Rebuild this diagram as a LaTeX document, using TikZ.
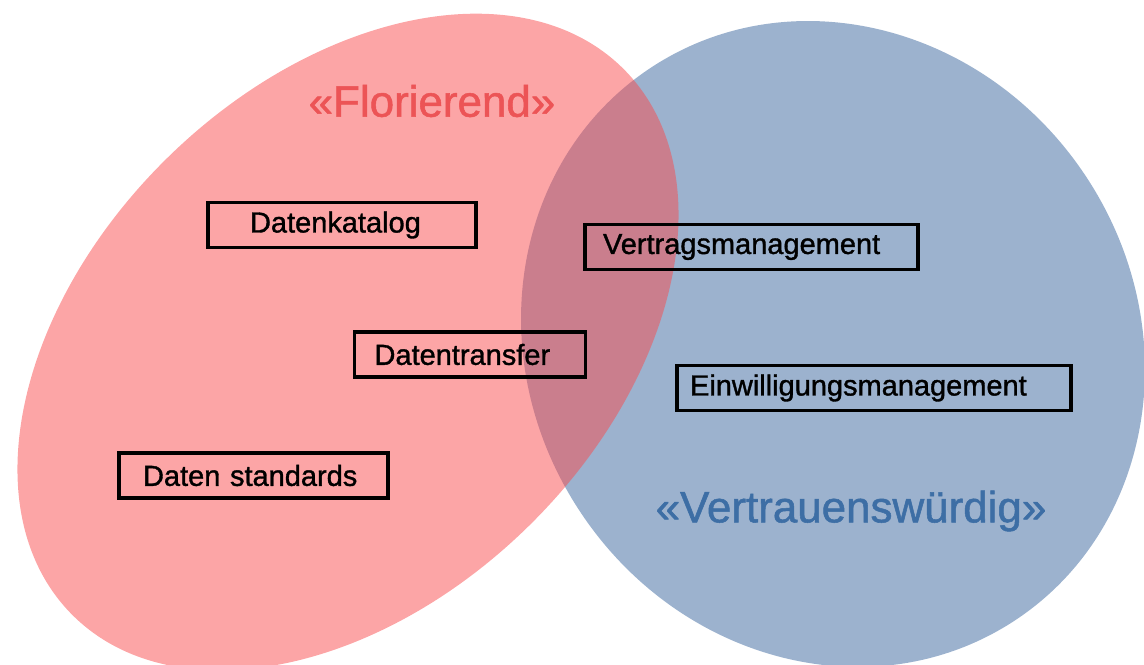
\documentclass[tikz,border=0pt]{standalone}
\usepackage{fontspec}
\setmainfont{Liberation Sans}
\newfontfamily\dickfont{Liberation Sans}[FakeBold=1.2]
\definecolor{floriRot}{RGB}{249,75,77}
\definecolor{vertrBlau}{RGB}{156,178,206}
\definecolor{floriText}{RGB}{236,84,86}
\definecolor{vertrText}{RGB}{61,110,165}

\begin{document}
\begin{tikzpicture}[x=0.02cm, y=-0.02cm,
    feld/.style={draw=black, line width=1.8pt, rectangle, minimum height=0.9cm, align=left,
        font=\dickfont\fontsize{16.5}{18}\selectfont},
    titel/.style={font=\dickfont\fontsize{25}{28}\selectfont}]
    \useasboundingbox (0,0) rectangle (1144,665);

    % Mengen
    \fill[vertrBlau, rotate around={-56.8:(833,344)}] (833,344) ellipse [x radius=6.62cm, y radius=6.07cm];
    \fill[floriRot, fill opacity=0.5, rotate around={44.5:(348,342)}] (348,342) ellipse [x radius=7.76cm, y radius=5.16cm];

    % Titel
    \node[titel, text=floriText] (florierend) at (432,101) {«Florierend»};
    \node[titel, text=vertrText] (vertrauen) at (851,511) {«Vertrauenswürdig»};

    % Felder
    \node[feld, inner xsep=0.84cm, text width=3.68cm] (katalog) at (342,225) {Datenkatalog};
    \node[feld, inner xsep=0.36cm, text width=5.94cm] (vertrag) at (751.5,247) {Vertragsmanagement};
    \node[feld, inner xsep=0.40cm, text width=3.82cm] (transfer) at (470,354.5) {Datentransfer};
    \node[feld, inner xsep=0.26cm, text width=7.36cm] (einwilligung) at (874,388) {Einwilligungsmanagement};
    \node[feld, inner xsep=0.48cm, text width=4.42cm] (standards) at (253.5,475.5) {Daten standards};
\end{tikzpicture}
\end{document}
